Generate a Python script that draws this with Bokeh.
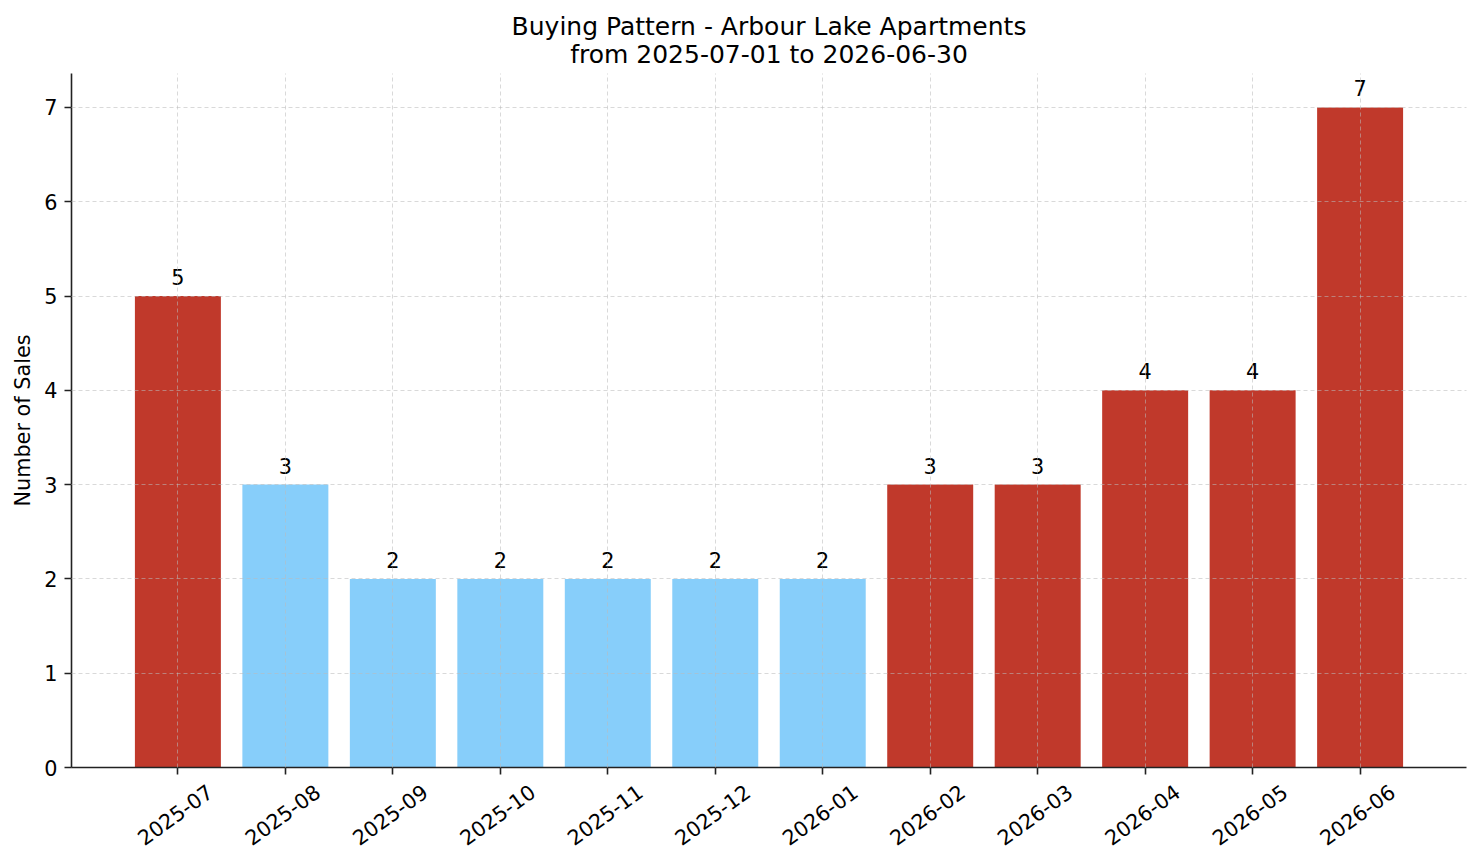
from bokeh.plotting import figure
from bokeh.models import ColumnDataSource, Range1d, FixedTicker, LabelSet
from bokeh.layouts import column
from bokeh.core.properties import value
from bokeh.embed import file_html
from bokeh.resources import INLINE
import math

months = ["2025-07", "2025-08", "2025-09", "2025-10", "2025-11", "2025-12",
          "2026-01", "2026-02", "2026-03", "2026-04", "2026-05", "2026-06"]
sales = [5, 3, 2, 2, 2, 2, 2, 3, 3, 4, 4, 7]
colors = ["#c0392b", "#87cefa", "#87cefa", "#87cefa", "#87cefa", "#87cefa",
          "#87cefa", "#c0392b", "#c0392b", "#c0392b", "#c0392b", "#c0392b"]
title_lines = ["Buying Pattern - Arbour Lake Apartments", "from 2025-07-01 to 2026-06-30"]
y_label = "Number of Sales"
y_ticks = [0, 1, 2, 3, 4, 5, 6, 7]

FONT = "DejaVu Sans"
FS = "20.8px"
W, H = 1481, 863
LEFT, RIGHT, TOP, BOTTOM = 71, 1466, 73, 767
TITLE_H = 70          # strip holding the two-line title
AXIS_H = 12           # space under main frame for the x axis ticks
LABEL_H = H - BOTTOM - AXIS_H

idx = list(range(len(months)))
x_range = Range1d(-0.99, len(months) - 1 + 0.99)
src = ColumnDataSource(dict(x=idx, top=sales, color=colors,
                            label=[str(v) for v in sales], month=months))


def strip(height, y_end):
    f = figure(width=W, height=height, output_backend="svg", toolbar_location=None,
               x_range=x_range, y_range=Range1d(0, y_end),
               x_axis_type=None, y_axis_type=None,
               min_border_left=LEFT, min_border_right=W - RIGHT,
               min_border_top=0, min_border_bottom=0)
    f.outline_line_color = None
    f.grid.visible = False
    return f


# ---- title strip (y in pixels from strip bottom)
p_title = strip(TITLE_H, TITLE_H)
tsrc = ColumnDataSource(dict(x=[(x_range.start + x_range.end) / 2] * 2,
                             y=[TITLE_H - 26, TITLE_H - 54], text=title_lines))
p_title.add_layout(LabelSet(x="x", y="y", text="text", source=tsrc,
                            text_align="center", text_baseline="middle",
                            text_font=value(FONT), text_font_size="25px",
                            text_color="black"))

# ---- main chart
p = figure(width=W, height=BOTTOM - TITLE_H + AXIS_H, output_backend="svg",
           toolbar_location=None, x_range=x_range, y_range=Range1d(0, 7.36),
           min_border_left=LEFT, min_border_right=W - RIGHT,
           min_border_top=TOP - TITLE_H, min_border_bottom=AXIS_H)
p.outline_line_color = None

p.vbar(x="x", top="top", width=0.8, color="color", source=src, line_color=None)
p.add_layout(LabelSet(x="x", y="top", text="label", source=src, text_align="center",
                      text_baseline="bottom", y_offset=11, text_font=value(FONT),
                      text_font_size=FS, text_color="black"))

p.xaxis.ticker = FixedTicker(ticks=idx)
p.xaxis.major_label_overrides = {i: "" for i in idx}
p.xaxis.major_label_text_font_size = "0px"
p.xaxis.major_label_standoff = 0
p.yaxis.ticker = FixedTicker(ticks=y_ticks)
p.yaxis.axis_label = y_label
p.yaxis.major_label_standoff = 7
p.yaxis.axis_label_standoff = 6
p.yaxis.major_label_text_font_size = FS

for ax in (p.xaxis[0], p.yaxis[0]):
    ax.axis_line_color = "#222222"
    ax.axis_line_width = 1.6
    ax.major_tick_line_color = "#222222"
    ax.major_tick_line_width = 1.6
    ax.major_tick_out = 7
    ax.major_tick_in = 0
    ax.minor_tick_line_color = None
    ax.major_label_text_font = FONT
    ax.major_label_text_color = "black"
    ax.axis_label_text_font = FONT
    ax.axis_label_text_font_size = FS
    ax.axis_label_text_font_style = "normal"
    ax.axis_label_text_color = "black"

for g in (p.xgrid[0], p.ygrid[0]):
    g.grid_line_color = "#bbbbbb"
    g.grid_line_dash = "4 3"
    g.grid_line_width = 0.8
    g.grid_line_alpha = 0.7
    g.level = "overlay"

# ---- rotated month labels strip (y in pixels from strip bottom)
p_lab = strip(LABEL_H, LABEL_H)
msrc = ColumnDataSource(dict(x=idx, y=[LABEL_H - (814 - BOTTOM - AXIS_H)] * len(idx),
                             text=months))
p_lab.add_layout(LabelSet(x="x", y="y", text="text", source=msrc, x_offset=-3,
                          text_align="center", text_baseline="middle",
                          angle=math.radians(36), text_font=value(FONT),
                          text_font_size=FS, text_color="black"))

layout = column(p_title, p, p_lab, spacing=0)
open("out.html", "w").write(file_html(layout, INLINE))
